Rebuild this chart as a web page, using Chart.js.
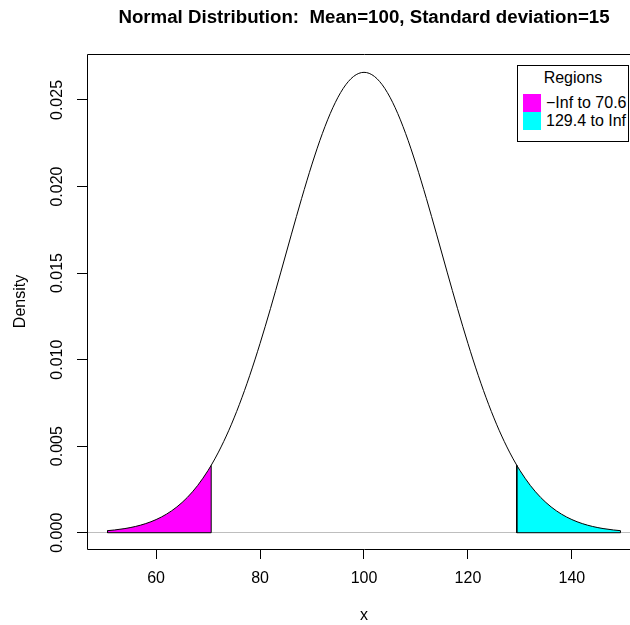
<!DOCTYPE html>
<html>
<head>
<meta charset="utf-8">
<script src="https://cdn.jsdelivr.net/npm/chart.js@4.4.1/dist/chart.umd.min.js"></script>
<style>
  html, body { margin: 0; padding: 0; overflow: hidden; background: #fff; }
  #wrap { position: relative; width: 630px; height: 625px; overflow: hidden; }
  #c { position: absolute; left: 0; top: 0; }
  #legend {
    position: absolute; left: 517px; top: 65px; width: 110px; height: 75px;
    border: 1px solid #000; background: #fff;
    font: 16px "Liberation Sans", Arial, Helvetica, sans-serif; color: #000;
  }
  #legend .ttl { position: absolute; left: 0; right: 0; top: 3px; text-align: center; line-height: 18px; }
  #legend .sw { position: absolute; left: 5px; width: 18px; height: 18px; }
  #legend .lb { position: absolute; left: 28px; line-height: 18px; white-space: nowrap; }
</style>
</head>
<body>
<div id="wrap">
  <canvas id="c" width="728" height="625"></canvas>
  <div id="legend"></div>
</div>
<script>
// ---- data ----
const xValues = [50.65, 52, 54, 56, 58, 60, 62, 64, 66, 68, 70, 70.6,
  72, 74, 76, 78, 80, 82, 84, 86, 88, 90, 92, 94, 96, 98, 100,
  102, 104, 106, 108, 110, 112, 114, 116, 118, 120, 122, 124, 126, 128,
  129.4, 130, 132, 134, 136, 138, 140, 142, 144, 146, 148, 149.35];
const densityValues = [0.000119, 0.000159, 0.000241, 0.000360, 0.000528, 0.000760, 0.001074, 0.001493, 0.002038, 0.002732, 0.003599, 0.003896,
  0.004658, 0.005921, 0.007395, 0.009072, 0.010934, 0.012946, 0.015057, 0.017205, 0.019313, 0.021296, 0.023070, 0.024551, 0.025667, 0.026361, 0.026596,
  0.026361, 0.025667, 0.024551, 0.023070, 0.021296, 0.019313, 0.017205, 0.015057, 0.012946, 0.010934, 0.009072, 0.007395, 0.005921, 0.004658,
  0.003896, 0.003599, 0.002732, 0.002038, 0.001493, 0.001074, 0.000760, 0.000528, 0.000360, 0.000241, 0.000159, 0.000119];
const lowerCut = 70.6;
const upperCut = 129.4;
const regionLabels = ['\u2212Inf to 70.6', '129.4 to Inf'];
const legendTitle = 'Regions';
const xTicks = [60, 80, 100, 120, 140];
const yTicks = [0, 0.005, 0.010, 0.015, 0.020, 0.025];
const yTickLabels = ['0.000', '0.005', '0.010', '0.015', '0.020', '0.025'];
const chartTitle = 'Normal Distribution:  Mean=100, Standard deviation=15';
const xTitle = 'x';
const yTitle = 'Density';
const xRange = [46.70, 153.30];
const yRange = [-0.00094, 0.027655];

// ---- build datasets ----
const pts = xValues.map((x, i) => ({ x: x, y: densityValues[i] }));
const leftPts = pts.filter(p => p.x <= lowerCut);
const rightPts = pts.filter(p => p.x >= upperCut);
const edges = a => [
  { x: a[0].x, y: a[0].y }, { x: a[0].x, y: 0 },
  { x: a[a.length - 1].x, y: 0 }, { x: a[a.length - 1].x, y: a[a.length - 1].y }
];

Chart.defaults.font.family = '"Liberation Sans", Arial, Helvetica, sans-serif';
Chart.defaults.font.size = 16;
Chart.defaults.color = '#000';

const boxPlugin = {
  id: 'box',
  beforeDatasetsDraw(chart) {
    const { ctx, chartArea: a } = chart;
    ctx.save();
    ctx.strokeStyle = '#000';
    ctx.lineWidth = 1;
    ctx.beginPath();
    ctx.moveTo(Math.round(a.left) + 0.5, Math.round(a.bottom) + 0.5);
    ctx.lineTo(Math.round(a.left) + 0.5, Math.round(a.top) + 0.5);
    ctx.lineTo(Math.round(a.right) + 0.5, Math.round(a.top) + 0.5);
    ctx.lineTo(Math.round(a.right) + 0.5, Math.round(a.bottom) + 0.5);
    ctx.closePath();
    ctx.stroke();
    ctx.restore();
  }
};

const chart = new Chart(document.getElementById('c'), {
  type: 'line',
  data: {
    datasets: [
      { label: 'curve', data: pts, borderColor: '#000', borderWidth: 1, fill: false,
        pointRadius: 0, cubicInterpolationMode: 'monotone', order: 0 },
      { label: 'leftEdge', data: edges(leftPts), borderColor: '#000', borderWidth: 1, fill: false,
        pointRadius: 0, tension: 0, order: 1 },
      { label: 'rightEdge', data: edges(rightPts), borderColor: '#000', borderWidth: 1, fill: false,
        pointRadius: 0, tension: 0, order: 1 },
      { label: regionLabels[0], data: leftPts, backgroundColor: '#FF00FF', borderWidth: 0,
        borderColor: 'rgba(0,0,0,0)', fill: 'origin', pointRadius: 0,
        cubicInterpolationMode: 'monotone', order: 2, isRegion: true },
      { label: regionLabels[1], data: rightPts, backgroundColor: '#00FFFF', borderWidth: 0,
        borderColor: 'rgba(0,0,0,0)', fill: 'origin', pointRadius: 0,
        cubicInterpolationMode: 'monotone', order: 2, isRegion: true }
    ]
  },
  options: {
    responsive: false,
    devicePixelRatio: 1,
    animation: false,
    events: [],
    layout: { padding: { left: 0, right: 0, top: 0, bottom: 0 } },
    plugins: {
      legend: { display: false },
      tooltip: { enabled: false },
      title: {
        display: true, text: chartTitle, color: '#000',
        font: { size: 18.7, weight: 'bold' },
        padding: { top: 6.7, bottom: 24.86 }
      }
    },
    scales: {
      x: {
        type: 'linear', position: 'bottom', min: xRange[0], max: xRange[1],
        afterBuildTicks: s => { s.ticks = xTicks.map(v => ({ value: v })); },
        afterFit: s => { s.height = 76; },
        ticks: { callback: v => String(v), padding: 10, maxRotation: 0, minRotation: 0, color: '#000', autoSkip: false },
        grid: { drawOnChartArea: false, drawTicks: true, tickLength: 10, tickColor: '#000', tickWidth: 1 },
        border: { display: false },
        title: { display: true, text: xTitle, color: '#000', font: { size: 16 }, padding: { top: 0, bottom: 0 } }
      },
      y: {
        type: 'linear', position: 'left', min: yRange[0], max: yRange[1],
        afterBuildTicks: s => { s.ticks = yTicks.map(v => ({ value: v })); },
        afterFit: s => { s.width = 87; },
        ticks: {
          callback: (v, i) => yTickLabels[i], padding: -1, minRotation: 90, maxRotation: 90,
          crossAlign: 'center', color: '#000', autoSkip: false
        },
        grid: {
          drawOnChartArea: true, drawTicks: true, tickLength: 10, tickColor: '#000', tickWidth: 1,
          color: c => (c.tick && c.tick.value === 0) ? '#BEBEBE' : 'rgba(0,0,0,0)', lineWidth: 1
        },
        border: { display: false },
        title: { display: true, text: yTitle, color: '#000', font: { size: 16 }, padding: { top: 10.5, bottom: 0 } }
      },
      yRight: {
        type: 'linear', position: 'right', display: true,
        afterFit: s => { s.width = 87; },
        ticks: { display: false },
        grid: { display: false, drawTicks: false },
        border: { display: false }
      }
    }
  },
  plugins: [boxPlugin]
});

// ---- HTML legend built from the region datasets ----
const lg = document.getElementById('legend');
const t = document.createElement('div');
t.className = 'ttl'; t.textContent = legendTitle; lg.appendChild(t);
chart.data.datasets.filter(d => d.isRegion).forEach((d, i) => {
  const sw = document.createElement('div');
  sw.className = 'sw'; sw.style.top = (28 + i * 18) + 'px'; sw.style.background = d.backgroundColor;
  const lb = document.createElement('div');
  lb.className = 'lb'; lb.style.top = (28 + i * 18) + 'px'; lb.textContent = d.label;
  lg.appendChild(sw); lg.appendChild(lb);
});
</script>
</body>
</html>
